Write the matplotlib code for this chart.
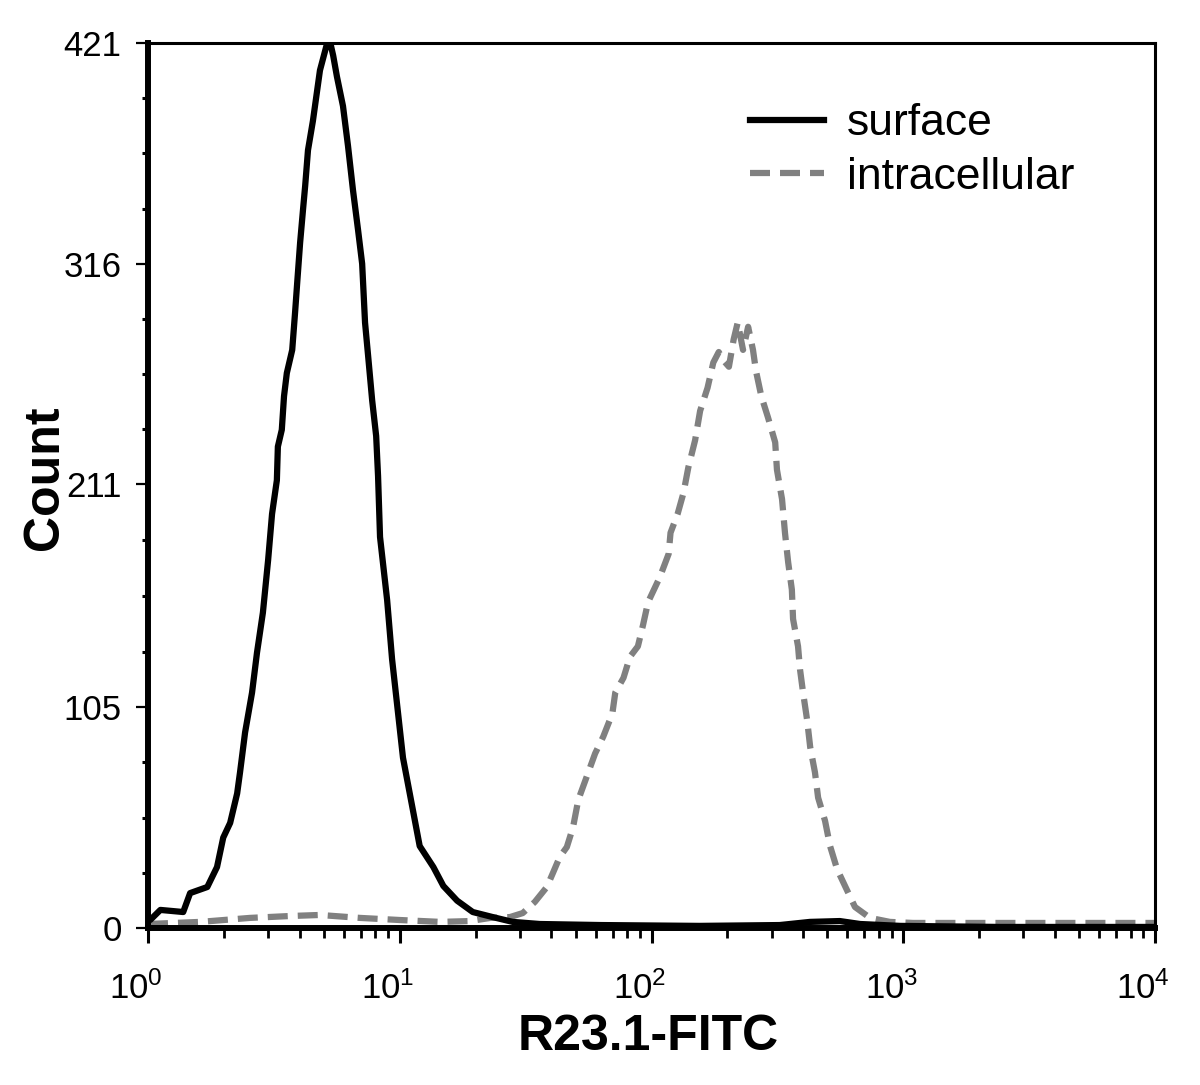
import matplotlib
matplotlib.use("Agg")
import matplotlib.pyplot as plt
from matplotlib.ticker import FixedLocator, LogLocator, NullFormatter, LogFormatterMathtext
from matplotlib.transforms import ScaledTranslation

plt.rcParams['font.family'] = ['Liberation Sans', 'DejaVu Sans']
plt.rcParams['mathtext.fontset'] = 'custom'
plt.rcParams['mathtext.rm'] = 'Liberation Sans'
plt.rcParams['mathtext.it'] = 'Liberation Sans'
plt.rcParams['mathtext.bf'] = 'Liberation Sans:bold'

# ---- data ----
surface_x = [1.0, 1.02, 1.12, 1.38, 1.47, 1.72, 1.88, 1.99, 2.12, 2.26, 2.32, 2.43, 2.59, 2.71,
             2.86, 3.0, 3.11, 3.25, 3.28, 3.40, 3.47, 3.56, 3.74, 3.84, 3.92, 4.02, 4.13, 4.21,
             4.32, 4.52, 4.82, 5.15, 5.30, 5.44, 5.63, 5.95, 6.23, 6.52, 6.83, 7.09, 7.28, 7.49,
             7.77, 8.06, 8.20, 8.35, 8.91, 9.32, 9.85, 10.3, 11.2, 12.0, 13.6, 14.9, 16.9, 19.5,
             23.4, 28.1, 36, 63, 155, 323, 426, 560, 674, 974, 2400, 10000]
surface_y = [5, 3.8, 8.6, 7.6, 16.6, 19.5, 29, 43, 50, 64, 74, 93, 112, 131,
             150, 175, 197, 213, 229, 237, 253, 264, 275, 293, 308, 326, 342, 353,
             370, 384, 408, 421, 421, 415, 405, 391, 372, 351, 332, 316, 288, 272,
             251, 234, 215, 186, 156, 128, 102, 81, 58, 39, 29, 20, 13, 7.6,
             5.2, 2.9, 1.9, 1.4, 1.0, 1.4, 2.9, 3.3, 1.9, 1.0, 0.5, 0.5]

intra_x = [1.0, 1.61, 2.54, 3.67, 4.82, 6.95, 10.0, 14.5, 19.0, 22.9, 27.4, 30.8, 34.4, 38.4,
           40.6, 43.2, 46.1, 48.8, 51.2, 55.3, 59.7, 64.3, 69.9, 71.8, 77.4, 82.1, 88.3, 92.5,
           96.9, 108, 117, 119, 127, 134, 140, 149, 156, 167, 176, 185, 193, 203, 212, 220,
           231, 242, 253, 260, 273, 290, 310, 315, 330, 339, 349, 361, 365, 382, 389, 400,
           415, 427, 446, 459, 489, 512, 546, 587, 643, 738, 885, 1094, 2423, 10000]
intra_y = [1.9, 2.9, 4.8, 5.7, 6.2, 4.8, 3.8, 2.9, 3.3, 4.8, 5.2, 7.1, 12.4, 19.5,
           26.2, 33.8, 38.5, 48, 61, 72, 83, 91, 102, 112, 119, 129, 134, 144,
           155, 167, 178, 188, 197, 207, 219, 232, 246, 257, 269, 274, 270, 267, 280, 288,
           275, 286, 275, 265, 253, 243, 231, 218, 204, 188, 174, 161, 147, 134, 123, 112,
           99, 86, 74, 62, 51, 39, 28, 20, 10, 4.8, 2.9, 2.4, 2.4, 2.4]

y_ticks = [0, 105, 211, 316, 421]
y_tick_labels = ["0", "105", "211", "316", "421"]
series_labels = ["surface", "intracellular"]
x_label = "R23.1-FITC"
y_label = "Count"

# ---- figure ----
W, H = 1200, 1085
fig = plt.figure(figsize=(W / 100, H / 100), dpi=100)
ax = fig.add_axes([148 / W, 1 - 928 / H, 1007 / W, 885 / H])

ax.plot(intra_x, intra_y, color='#808080', lw=4.5, dashes=(3.2, 1.6),
        label=series_labels[1], zorder=2, dash_capstyle='butt')
ax.plot(surface_x, surface_y, color='black', lw=4.5, label=series_labels[0], zorder=3)

ax.set_xscale('log')
ax.set_xlim(1, 1e4)
ax.set_ylim(0, 421)

ax.yaxis.set_major_locator(FixedLocator(y_ticks))
ax.set_yticklabels(y_tick_labels)
minor_y = [y_ticks[i] + (y_ticks[i + 1] - y_ticks[i]) * k / 4
           for i in range(len(y_ticks) - 1) for k in (1, 2, 3)]
ax.yaxis.set_minor_locator(FixedLocator(minor_y))

ax.xaxis.set_major_locator(LogLocator(base=10, numticks=10))
ax.xaxis.set_major_formatter(LogFormatterMathtext())
ax.xaxis.set_minor_locator(LogLocator(base=10, subs=range(2, 10), numticks=20))
ax.xaxis.set_minor_formatter(NullFormatter())

for side in ('left', 'bottom'):
    ax.spines[side].set_linewidth(4.3)
for side in ('top', 'right'):
    ax.spines[side].set_linewidth(2.2)

ax.tick_params(axis='y', which='major', direction='out', length=9, width=1.6,
               labelsize=25, pad=10)
ax.tick_params(axis='y', which='minor', direction='out', length=4, width=2.2)
ax.tick_params(axis='x', which='major', direction='out', length=11, width=2.2,
               labelsize=25, pad=20)
ax.tick_params(axis='x', which='minor', direction='out', length=7, width=2.0)

offset = ScaledTranslation(-12 / 100, 0, fig.dpi_scale_trans)
for lab in ax.get_xticklabels():
    lab.set_transform(lab.get_transform() + offset)

fig.text(648 / W, 1 - 1050 / H, x_label, fontsize=36, fontweight='bold',
         ha='center', va='baseline')
fig.text(58 / W, 1 - 478 / H, y_label, fontsize=36, fontweight='bold',
         rotation=90, rotation_mode='anchor', ha='center', va='baseline')

handles, labels = ax.get_legend_handles_labels()
order = [1, 0]
leg = ax.legend([handles[i] for i in order], [labels[i] for i in order],
                loc='upper left', bbox_to_anchor=(0.598, 0.932), frameon=False,
                fontsize=32, handlelength=1.67, handletextpad=0.5,
                labelspacing=0.28, borderpad=0, borderaxespad=0)

fig.savefig('out.png', dpi=100)
